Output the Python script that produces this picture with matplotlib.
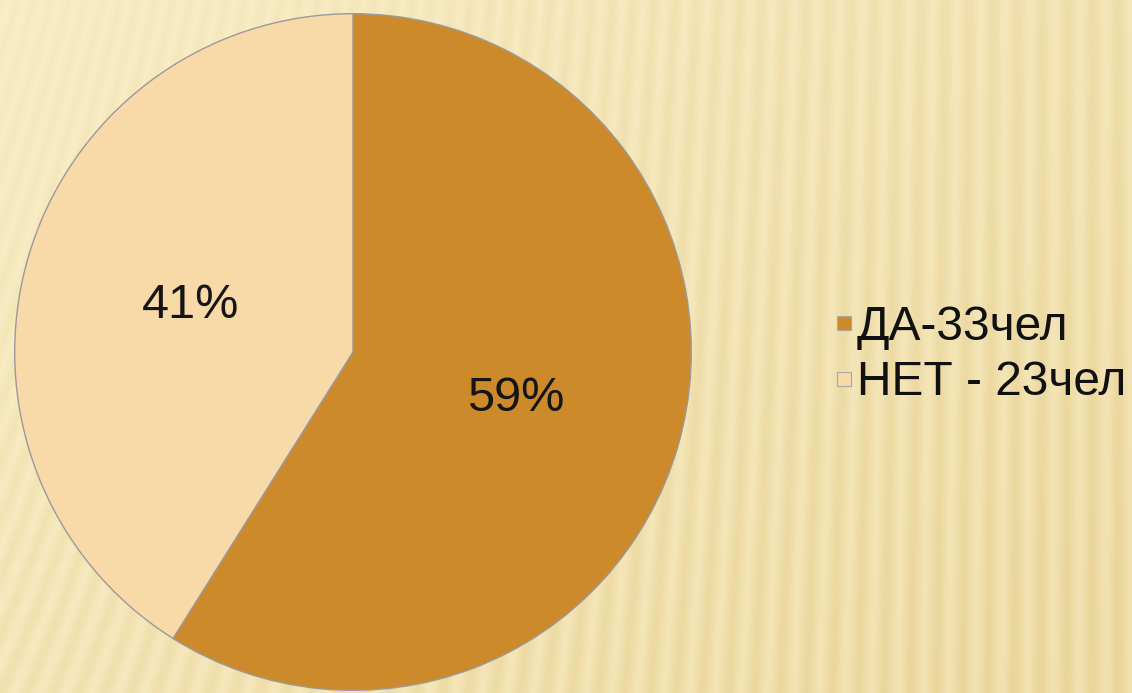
import numpy as np
import matplotlib
matplotlib.use("Agg")
import matplotlib.pyplot as plt
from matplotlib.lines import Line2D

# ---- data ----
labels = ["ДА-33чел", "НЕТ - 23чел"]
counts = [33, 23]
colors = ["#CD8A2B", "#F8D9A8"]

W, H, DPI = 1132, 693, 100
fig = plt.figure(figsize=(W / DPI, H / DPI), dpi=DPI)

# ---- decorative striped background ----
bg = fig.add_axes([0, 0, 1, 1], zorder=0)
yy, xx = np.mgrid[0:H, 0:W].astype(float)
xn, yn = xx / W, yy / H
slant = (1 - xn) ** 2 * 0.45 * (yy - H)
phase = 2 * np.pi * (xx + slant) / 26.0
stripe = 0.5 + 0.5 * np.cos(phase)
amp = 0.2 + 0.45 * np.clip(0.6 * xn + 0.5 * yn, 0, 1)
base = 0.12 + 0.45 * np.clip(0.55 * xn + 0.35 * yn, 0, 1)
t = np.clip(base + amp * stripe * 0.6, 0, 1)
L = np.array([252, 242, 207]) / 255
D = np.array([232, 210, 148]) / 255
img = L[None, None, :] * (1 - t[..., None]) + D[None, None, :] * t[..., None]
bg.imshow(img, aspect="auto", extent=[0, 1, 0, 1], origin="upper")
bg.set_xlim(0, 1)
bg.set_ylim(0, 1)
bg.axis("off")

# ---- pie ----
cx, cy, r = 353, 352, 340
ax = fig.add_axes([(cx - r) / W, (H - cy - r) / H, 2 * r / W, 2 * r / H], zorder=1)
wedges, texts, autotexts = ax.pie(
    counts,
    colors=colors,
    startangle=90,
    counterclock=False,
    autopct=lambda p: f"{p:.0f}%",
    pctdistance=0.5,
    radius=1.0,
    wedgeprops=dict(edgecolor="#9A9A9A", linewidth=1.0),
    textprops=dict(fontsize=35, color="#151515", family="Liberation Sans"),
)
ax.set_xlim(-1.005, 1.005)
ax.set_ylim(-1.005, 1.005)
ax.set_aspect("equal")
ax.axis("off")

# ---- legend ----
handles = [Line2D([], [], linestyle="none", marker="s", markersize=9.5,
                  markerfacecolor=c, markeredgecolor="#A8A8A8", markeredgewidth=0.8)
           for c in colors]
leg = fig.legend(
    handles,
    labels,
    loc="center left",
    bbox_to_anchor=(834 / W, 1 - 355 / H),
    frameon=False,
    prop=dict(family="Liberation Sans", size=34.5),
    handlelength=0.4,
    handletextpad=0.08,
    labelspacing=0.22,
    borderpad=0,
    borderaxespad=0,
)
for txt in leg.get_texts():
    txt.set_color("#111111")

fig.savefig("out.png", dpi=DPI)
